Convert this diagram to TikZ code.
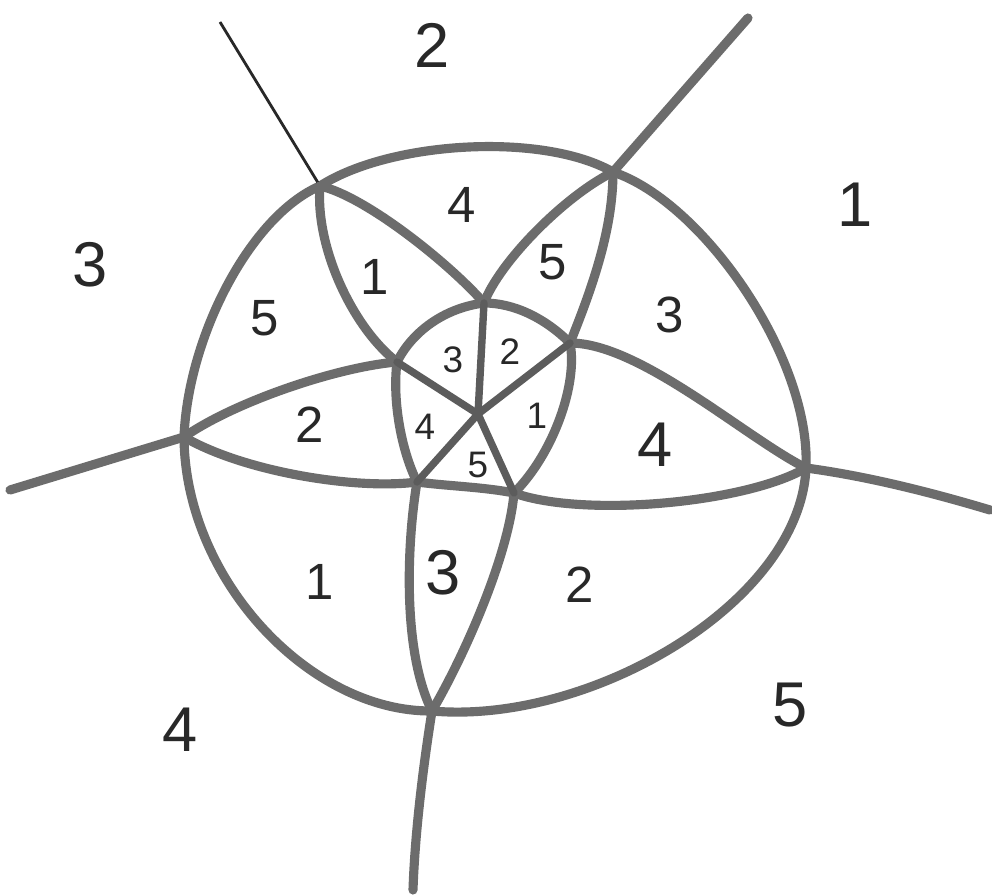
\documentclass[tikz,border=0pt]{standalone}
\usepackage{fontspec}
\setmainfont{Liberation Sans}
\usepackage{xcolor}
\usepackage{tikz}
\definecolor{pencilgray}{RGB}{108, 108, 108}
\definecolor{inkgray}{RGB}{40, 40, 40}

\begin{document}
\begin{tikzpicture}[x=0.02cm, y=-0.02cm,
    edge/.style={draw=pencilgray, line width=5.2pt, line cap=round, line join=round},
    spoke/.style={draw=pencilgray!85!black, line width=4.2pt, line cap=round},
    thinray/.style={draw=inkgray, line width=1.6pt},
    bignum/.style={text=inkgray, font=\fontsize{36}{40}\selectfont},
    num/.style={text=inkgray, font=\fontsize{29}{32}\selectfont},
    smallnum/.style={text=inkgray, font=\fontsize{21}{24}\selectfont}]

    \fill[white] (0,0) rectangle (992,895);
    \useasboundingbox (0,0) rectangle (992,895);

    % Outer vertices
    \coordinate (o1) at (320,186);
    \coordinate (o2) at (613,172);
    \coordinate (o3) at (806,468);
    \coordinate (o4) at (432,711);
    \coordinate (o5) at (184,437);

    % Ray ends
    \coordinate (r1) at (220,22);
    \coordinate (r2) at (748,18);
    \coordinate (r3) at (990,510);
    \coordinate (r4) at (413,890);
    \coordinate (r5) at (10,490);

    % Inner pentagon
    \coordinate (c) at (478,414);
    \coordinate (p1) at (484,303);
    \coordinate (p2) at (570,343);
    \coordinate (p3) at (514,493);
    \coordinate (p4) at (417,482);
    \coordinate (p5) at (397,362);

    % Outer ring
    \draw[edge] (o1) .. controls +(70,-45) and +(-70,-40) .. (o2);
    \draw[edge] (o2) .. controls +(90,30) and +(5,-110) .. (o3);
    \draw[edge] (o3) .. controls +(-6,135) and +(158,14) .. (o4);
    \draw[edge] (o4) .. controls +(-122,1) and +(1,143) .. (o5);
    \draw[edge] (o5) .. controls +(4,-100) and +(-70,30) .. (o1);

    % Rays
    \draw[thinray] (o1) -- (r1);
    \draw[edge] (o2) -- (r2);
    \draw[edge] (o3) .. controls +(60,8) and +(-60,-18) .. (r3);
    \draw[edge] (o4) .. controls +(-8,50) and +(2,-60) .. (r4);
    \draw[edge] (o5) -- (r5);

    % Lenses
    \draw[edge] (o1) .. controls +(45,10) and +(-35,-40) .. (p1);
    \draw[edge] (o1) .. controls +(-5,60) and +(-45,-35) .. (p5);
    \draw[edge] (o2) .. controls +(-50,25) and +(15,-40) .. (p1);
    \draw[edge] (o2) .. controls +(0,60) and +(20,-50) .. (p2);
    \draw[edge] (o3) .. controls +(-60,-30) and +(70,0) .. (p2);
    \draw[edge] (o3) .. controls +(-60,35) and +(70,25) .. (p3);
    \draw[edge] (o4) .. controls +(-30,-60) and +(-10,60) .. (p4);
    \draw[edge] (o4) .. controls +(35,-60) and +(-5,60) .. (p3);
    \draw[edge] (o5) .. controls +(50,-35) and +(-60,5) .. (p5);
    \draw[edge] (o5) .. controls +(60,35) and +(-60,8) .. (p4);

    % Inner boundary
    \draw[edge] (p1) .. controls +(30,0) and +(-25,-25) .. (p2);
    \draw[edge] (p2) .. controls +(8,40) and +(40,-40) .. (p3);
    \draw[edge] (p3) .. controls +(-30,-6) and +(30,4) .. (p4);
    \draw[edge] (p4) .. controls +(-15,-30) and +(-5,40) .. (p5);
    \draw[edge] (p5) .. controls +(15,-30) and +(-40,5) .. (p1);

    % Spokes
    \draw[spoke] (c) -- (p1);
    \draw[spoke] (c) -- (p2);
    \draw[spoke] (c) -- (p3);
    \draw[spoke] (c) -- (p4);
    \draw[spoke] (c) -- (p5);

    % Outside labels
    \node[bignum] (out2) at (432,45) {2};
    \node[bignum] (out1) at (855,205) {1};
    \node[bignum] (out3) at (90,265) {3};
    \node[bignum] (out4) at (180,730) {4};
    \node[bignum] (out5) at (790,705) {5};

    % Ring labels
    \node[num] (ring4a) at (462,205) {4};
    \node[num] (ring1a) at (375,277) {1};
    \node[num] (ring5a) at (553,262) {5};
    \node[num] (ring3a) at (670,315) {3};
    \node[num] (ring5b) at (265,318) {5};
    \node[num] (ring2a) at (310,425) {2};
    \node[bignum] (ring4b) at (655,445) {4};
    \node[num] (ring1b) at (320,582) {1};
    \node[bignum] (ring3b) at (443,573) {3};
    \node[num] (ring2b) at (580,585) {2};

    % Inner labels
    \node[smallnum] (in3) at (453,360) {3};
    \node[smallnum] (in2) at (510,352) {2};
    \node[smallnum] (in1) at (537,416) {1};
    \node[smallnum] (in4) at (425,427) {4};
    \node[smallnum] (in5) at (478,465) {5};
\end{tikzpicture}
\end{document}
